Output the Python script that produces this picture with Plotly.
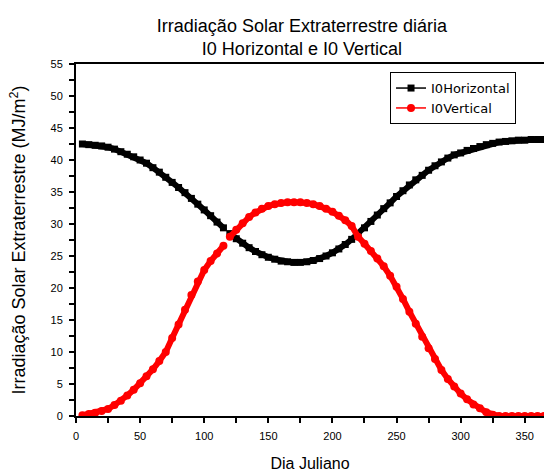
import plotly.graph_objects as go

days = [5, 10, 15, 20, 25, 30, 35, 40, 45, 50, 55, 60, 65, 70, 75, 80, 85, 90, 95, 100,
        105, 110, 115, 118, 120, 125, 130, 135, 140, 145, 150, 155, 160, 165, 170, 175, 180,
        185, 190, 195, 200, 205, 210, 215, 220, 225, 230, 235, 240, 245, 250, 255, 260,
        265, 270, 275, 280, 285, 290, 295, 300, 305, 310, 315, 320, 325, 330, 335, 340,
        345, 350, 355, 360, 365]

i0_horizontal = [42.5, 42.4, 42.3, 42.2, 42.0, 41.7, 41.3, 40.9, 40.5, 40.0, 39.5, 38.8,
                 38.1, 37.3, 36.5, 35.7, 34.9, 34.0, 33.1, 32.2, 31.3, 30.3, 29.4, None,
                 28.5, 27.7, 27.0, 26.3, 25.7, 25.2, 24.8, 24.5, 24.2, 24.1, 24.0, 24.0,
                 24.1, 24.3, 24.6, 25.0, 25.5, 26.1, 26.8, 27.6, 28.5, 29.4, 30.4, 31.4,
                 32.4, 33.3, 34.3, 35.2, 36.1, 36.9, 37.6, 38.4, 39.1, 39.7, 40.3, 40.8,
                 41.1, 41.5, 41.8, 42.1, 42.4, 42.6, 42.8, 42.9, 43.0, 43.1, 43.1, 43.2,
                 43.2, 43.2]

i0_vertical = [0.1, 0.3, 0.5, 0.8, 1.1, 1.7, 2.4, 3.2, 4.1, 5.1, 6.2, 7.3, 8.6, 10.0,
               12.2, 14.3, 16.6, 18.9, 21.0, 22.8, 24.2, 25.4, 26.6, None, 28.0, 29.1,
               30.1, 31.1, 31.8, 32.4, 32.8, 33.1, 33.3, 33.4, 33.4, 33.4, 33.3, 33.1,
               32.8, 32.4, 31.9, 31.3, 30.6, 29.7, 28.0, 26.9, 25.8, 24.6, 23.4, 21.9,
               20.2, 18.3, 16.3, 14.4, 12.4, 10.6, 8.9, 7.2, 5.8, 4.6, 3.5, 2.6, 1.8,
               1.2, 0.6, 0.2, 0.0, 0.0, 0.0, 0.0, 0.0, 0.0, 0.0, 0.0]

x_ticks = [0, 50, 100, 150, 200, 250, 300, 350]
y_ticks = [0, 5, 10, 15, 20, 25, 30, 35, 40, 45, 50, 55]

FONT = "Arial, Liberation Sans, sans-serif"

fig = go.Figure()
fig.add_trace(go.Scatter(x=days, y=i0_horizontal, mode="lines+markers",
                         line=dict(color="black", width=6),
                         marker=dict(symbol="square", size=7, color="black"),
                         showlegend=False, connectgaps=False))
fig.add_trace(go.Scatter(x=days, y=i0_vertical, mode="lines+markers",
                         line=dict(color="red", width=6),
                         marker=dict(symbol="circle", size=8, color="red"),
                         showlegend=False, connectgaps=False))
# legend entries
fig.add_trace(go.Scatter(x=[None], y=[None], mode="lines+markers", name="I0Horizontal",
                         line=dict(color="black", width=1.5),
                         marker=dict(symbol="square", size=7, color="black")))
fig.add_trace(go.Scatter(x=[None], y=[None], mode="lines+markers", name="I0Vertical",
                         line=dict(color="red", width=1.5),
                         marker=dict(symbol="circle", size=8, color="red")))

fig.update_layout(
    width=544, height=472,
    margin=dict(l=76, r=0, t=64, b=56),
    paper_bgcolor="white", plot_bgcolor="white",
    font=dict(family=FONT, color="black"),
    title=dict(text="Irradiação Solar Extraterrestre diária<br>I0 Horizontal e I0 Vertical",
               x=0.555, xanchor="center", y=1 - 32 / 472, yanchor="bottom",
               font=dict(size=18, color="black")),
    legend=dict(x=0.671, y=0.977, xanchor="left", yanchor="top",
                bordercolor="black", borderwidth=1, bgcolor="white",
                font=dict(size=13, color="black", family="DejaVu Sans, sans-serif"),
                tracegroupgap=0),
)
fig.update_xaxes(range=[0, 365], tickvals=x_ticks, ticktext=[str(v) for v in x_ticks],
                 ticks="outside", ticklen=5, tickwidth=1.5, tickcolor="black",
                 minor=dict(dtick=25, ticks="outside", ticklen=5, tickwidth=1.5, tickcolor="black"),
                 showline=True, linecolor="black", linewidth=2, mirror=True,
                 showgrid=False, zeroline=False, ticklabelstandoff=4,
                 tickfont=dict(size=11, color="black"),
                 title=dict(text="Dia Juliano", font=dict(size=16, color="black"), standoff=17))
fig.update_yaxes(range=[0, 55], tickvals=y_ticks, ticktext=[str(v) for v in y_ticks],
                 ticks="outside", ticklen=5, tickwidth=1.5, tickcolor="black",
                 minor=dict(dtick=2.5, ticks="outside", ticklen=5, tickwidth=1.5, tickcolor="black"),
                 showline=True, linecolor="black", linewidth=2,
                 showgrid=False, zeroline=False, ticklabelstandoff=4,
                 tickfont=dict(size=11, color="black"),
                 title=dict(text="Irradiação Solar Extraterrestre (MJ/m<sup>2</sup>)",
                            font=dict(size=18, color="black"), standoff=20))

fig.write_html("out.html")
